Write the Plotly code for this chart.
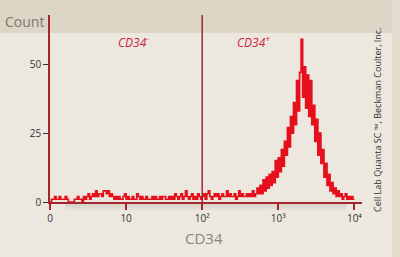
import numpy as np
import plotly.graph_objects as go

# Histogram counts, 200 equal bins on log10 scale from 10^0 to 10^4
counts = [
    0, 1, 1, 2, 1, 1, 2, 1, 1, 1,
    2, 1, 0, 0, 0, 0, 1, 1, 2, 1,
    1, 0, 2, 1, 2, 3, 1, 2, 3, 2,
    4, 2, 3, 3, 2, 4, 4, 3, 4, 2,
    3, 2, 1, 2, 1, 2, 1, 1, 2, 3,
    1, 2, 1, 1, 2, 1, 1, 3, 2, 1,
    2, 1, 1, 2, 1, 1, 1, 2, 1, 2,
    1, 1, 2, 1, 2, 2, 1, 1, 2, 1,
    2, 1, 3, 2, 1, 2, 3, 1, 2, 4,
    2, 1, 2, 3, 1, 2, 1, 3, 2, 1,
    2, 3, 1, 3, 4, 2, 1, 2, 3, 2,
    3, 1, 2, 3, 2, 2, 4, 2, 3, 2,
    2, 3, 1, 2, 4, 2, 3, 2, 2, 3,
    2, 3, 2, 4, 2, 3, 5, 3, 6, 3,
    8, 4, 9, 5, 10, 6, 11, 7, 15, 9,
    16, 11, 19, 13, 22, 17, 27, 20, 31, 25,
    36, 28, 44, 33, 47, 59, 38, 49, 34, 46,
    31, 44, 28, 35, 22, 30, 17, 25, 14, 19,
    9, 14, 6, 10, 4, 7, 3, 5, 2, 4,
    2, 3, 1, 2, 3, 1, 2, 1, 2, 1,
]
log_min, log_max = 0.0, 4.0

x_tickvals = [1, 10, 100, 1000, 10000]
x_ticktext = ["0", "10", "10²", "10³", "10⁴"]
y_tickvals = [0, 25, 50]
gate_position = 100
gate_labels = ["CD34<sup>-</sup>", "CD34<sup>+</sup>"]
gate_label_log = [1.1, 2.67]

n = len(counts)
edges = 10 ** np.linspace(log_min, log_max, n + 1)
xs = list(edges)
ys = counts + [counts[-1]]

BG = "#ECE8DF"
BAND = "#DDD5C6"
AXIS_RED = "#A3262E"
RED = "#E5101C"
FONT = "Open Sans"

fig = go.Figure()
fig.add_trace(go.Scatter(
    x=xs, y=ys, mode="lines", line=dict(color=RED, width=1.7, shape="hv"),
    hoverinfo="skip", showlegend=False,
))

fig.update_layout(
    width=400, height=257,
    margin=dict(l=50, r=38, t=15, b=55),
    paper_bgcolor=BG, plot_bgcolor=BG,
    font=dict(family=FONT, color="#333333", size=10),
    showlegend=False,
    xaxis=dict(
        type="log", range=[0, 4.1], showgrid=False, zeroline=False,
        showline=True, linecolor=AXIS_RED, linewidth=1.5,
        tickmode="array", tickvals=x_tickvals, ticktext=x_ticktext,
        ticks="outside", ticklen=6, tickcolor=AXIS_RED, tickwidth=1.5,
        tickfont=dict(size=10, color="#333333", family=FONT),
    ),
    yaxis=dict(
        range=[0, 67.8], showgrid=False, zeroline=False,
        showline=True, linecolor=AXIS_RED, linewidth=1.5,
        tickmode="array", tickvals=y_tickvals,
        ticks="outside", ticklen=5, tickcolor="#333333", tickwidth=1.2,
        tickfont=dict(size=10, color="#333333", family=FONT),
    ),
)

band_y0 = (202 - 33) / 187
shapes = [
    # top band
    dict(type="rect", xref="paper", yref="paper", x0=-0.2, x1=1.2,
         y0=band_y0, y1=2, fillcolor=BAND, line=dict(width=0), layer="below"),
    # right strip
    dict(type="rect", xref="paper", yref="paper",
         x0=(392 - 50) / 312, x1=1.5, y0=-1, y1=2, fillcolor="#E2DBCE",
         line=dict(width=0), layer="below"),
    # gate line
    dict(type="line", xref="x", yref="paper", x0=gate_position, x1=gate_position,
         y0=0, y1=1, line=dict(color=AXIS_RED, width=1.5)),
]
# soft shadow under the axis
for k, op in enumerate([0.10, 0.07, 0.04]):
    yy = -0.014 - k * 0.012
    shapes.append(dict(type="line", xref="paper", yref="paper",
                       x0=0.05, x1=0.95, y0=yy, y1=yy,
                       line=dict(color="rgba(90,80,70,%.2f)" % op, width=3), layer="below"))
fig.update_layout(shapes=shapes)

annotations = [
    dict(text="Count", xref="paper", yref="paper", x=(3 - 50) / 312, y=(202 - 21) / 187,
         xanchor="left", yanchor="middle", showarrow=False,
         font=dict(size=14, color="#7D776D", family=FONT)),
    dict(text="CD34", xref="paper", yref="paper", x=(204 - 50) / 312, y=(202 - 238) / 187,
         xanchor="center", yanchor="middle", showarrow=False,
         font=dict(size=15, color="#8A857B", family=FONT)),
    dict(text="Cell Lab Quanta SC ™, Beckman Coulter, Inc.", xref="paper", yref="paper",
         x=(377 - 50) / 312, y=(202 - 120) / 187, textangle=-90,
         xanchor="center", yanchor="middle", showarrow=False,
         font=dict(size=9, color="#333333", family=FONT)),
]
for lbl, gx in zip(gate_labels, gate_label_log):
    annotations.append(dict(text="<i>" + lbl + "</i>", xref="x", yref="paper",
                            x=gx, y=(202 - 42) / 187,
                            xanchor="center", yanchor="middle", showarrow=False,
                            font=dict(size=12, color="#D0213A", family=FONT)))
fig.update_layout(annotations=annotations)

fig.write_html("out.html")
